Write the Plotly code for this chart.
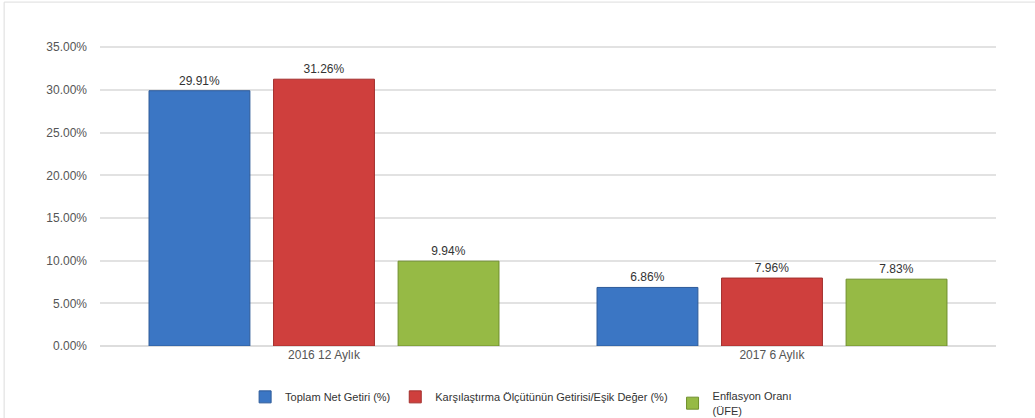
import plotly.graph_objects as go

categories = ["2016 12 Aylık", "2017 6 Aylık"]
series_names = ["Toplam Net Getiri (%)",
                "Karşılaştırma Ölçütünün Getirisi/Eşik Değer (%)",
                "Enflasyon Oranı<br>(ÜFE)"]
toplam = [0.2991, 0.0686]
karsilastirma = [0.3126, 0.0796]
enflasyon = [0.0994, 0.0783]
tick_vals = [0, 0.05, 0.10, 0.15, 0.20, 0.25, 0.30, 0.35]

colors = ["#3b76c4", "#cf3f3d", "#96ba45"]
lines = ["#2d5a98", "#a32f2d", "#6f8f2c"]

fig = go.Figure()
for name, vals, c, lc in zip(series_names, [toplam, karsilastirma, enflasyon], colors, lines):
    fig.add_trace(go.Bar(
        x=categories, y=vals, name=name,
        marker=dict(color=c, line=dict(color=lc, width=1)),
        texttemplate="%{y:.2%}", textposition="outside",
        textfont=dict(size=12, color="#333333", family="Liberation Sans, Arial"),
        cliponaxis=False,
    ))

fig.update_layout(
    width=1035, height=418,
    margin=dict(l=100, r=39, t=43, b=72, autoexpand=False),
    paper_bgcolor="white", plot_bgcolor="white",
    font=dict(family="Liberation Sans, Arial", size=12, color="#555555"),
    barmode="group", bargap=0.166, bargroupgap=0.19,
    showlegend=True,
    legend=dict(orientation="h", x=0.47, xanchor="center", y=-0.12, yanchor="top",
                font=dict(size=11, color="#333333"), itemwidth=30,
                traceorder="normal"),
    xaxis=dict(showgrid=False, showline=False, ticks="",
               tickfont=dict(size=12, color="#555555")),
    yaxis=dict(range=[0, 0.355], tickvals=tick_vals, tickformat=".2%",
               showgrid=True, gridcolor="#e2e2e2", gridwidth=1.5,
               zeroline=True, zerolinecolor="#dddddd", zerolinewidth=1.5,
               showline=False, ticks="", ticklabelstandoff=12,
               tickfont=dict(size=12, color="#555555")),
    shapes=[
        dict(type="line", xref="paper", yref="paper", x0=-0.107, x1=-0.107, y0=1.135, y1=-0.25,
             line=dict(color="#dddddd", width=1)),
        dict(type="line", xref="paper", yref="paper", x0=-0.107, x1=1.05, y0=1.135, y1=1.135,
             line=dict(color="#dddddd", width=1)),
    ],
)

fig.write_html("out.html", config={"displayModeBar": False},
               post_script="document.body.style.margin='0';")
